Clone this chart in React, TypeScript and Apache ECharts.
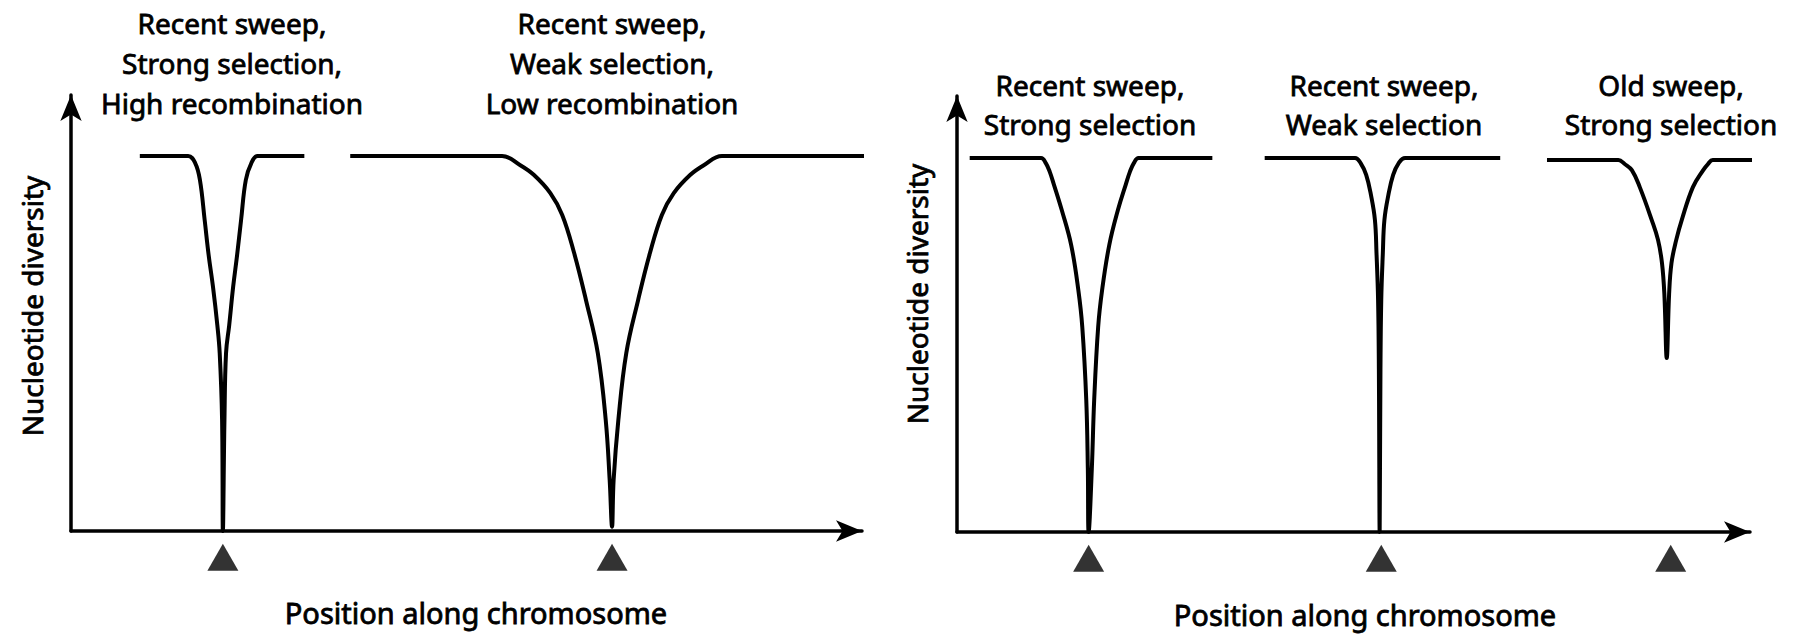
import React, { useEffect, useRef } from "react";
import * as echarts from "echarts";

// ---- Data (x: position along chromosome, 0-100 per panel; y: relative nucleotide diversity, 0-1) ----
// Left panel
const leftRecentStrongHighRecX = [8.7, 14.8, 15.7, 16.3, 16.9, 17.4, 17.95, 18.5, 18.8, 19.1, 19.2, 19.4, 19.6, 20.0, 20.5, 21.0, 21.5, 22.1, 22.8, 23.6, 29.5];
const leftRecentStrongHighRecY = [0.86, 0.86, 0.844, 0.805, 0.713, 0.633, 0.56, 0.472, 0.408, 0.255, 0, 0.255, 0.408, 0.472, 0.56, 0.633, 0.713, 0.805, 0.844, 0.86, 0.86];

const leftRecentWeakLowRecX = [35.3, 54.5, 56.8, 58.5, 60.6, 62.1, 63.6, 65.1, 66.6, 67.6, 68.1, 68.4, 68.6, 69.2, 70.2, 71.7, 73.2, 74.7, 76.2, 78.3, 80.0, 82.3, 101.5];
const leftRecentWeakLowRecY = [0.86, 0.86, 0.839, 0.817, 0.775, 0.725, 0.638, 0.53, 0.408, 0.255, 0.117, 0.01, 0.117, 0.255, 0.408, 0.53, 0.638, 0.725, 0.775, 0.817, 0.839, 0.86, 0.86];

// Right panel
const rightRecentStrongX = [1.6, 10.6, 11.2, 11.7, 12.2, 13.2, 14.4, 15.3, 15.8, 16.3, 16.5, 16.6, 17.0, 17.3, 17.8, 18.3, 19.2, 20.3, 21.3, 21.8, 22.3, 22.9, 32.2];
const rightRecentStrongY = [0.858, 0.858, 0.846, 0.826, 0.798, 0.739, 0.658, 0.555, 0.47, 0.303, 0.144, 0, 0.144, 0.303, 0.47, 0.555, 0.658, 0.739, 0.798, 0.826, 0.846, 0.858, 0.858];

const rightRecentWeakX = [38.8, 50.2, 50.9, 51.6, 52.2, 52.7, 52.9, 53.1, 53.2, 53.3, 53.4, 53.5, 53.7, 53.9, 54.4, 55.0, 55.7, 56.5, 68.5];
const rightRecentWeakY = [0.858, 0.858, 0.846, 0.819, 0.773, 0.716, 0.64, 0.532, 0.372, 0, 0.372, 0.532, 0.64, 0.716, 0.773, 0.819, 0.846, 0.858, 0.858];

const rightOldStrongX = [74.4, 83.4, 84.2, 85.1, 86.1, 87.6, 88.4, 88.9, 89.2, 89.5, 89.8, 90.1, 90.7, 91.4, 92.8, 94.1, 94.7, 95.3, 104.4];
const rightOldStrongY = [0.853, 0.853, 0.844, 0.83, 0.791, 0.716, 0.67, 0.617, 0.546, 0.399, 0.546, 0.617, 0.67, 0.716, 0.791, 0.83, 0.844, 0.853, 0.853];

// Sweep site markers (triangles under the axis)
const leftSweepSites = [19.2, 68.4];
const rightSweepSites = [16.6, 53.5, 90.0];
const markerLevel = -0.06;

// Texts
const leftTitles = ["Recent sweep,\nStrong selection,\nHigh recombination", "Recent sweep,\nWeak selection,\nLow recombination"];
const rightTitles = ["Recent sweep,\nStrong selection", "Recent sweep,\nWeak selection", "Old sweep,\nStrong selection"];
const yName = "Nucleotide diversity";
const xName = "Position along chromosome";

const FONT = "'Noto Sans', sans-serif";
const FS = 28;

const zip = (xs: number[], ys: number[]) => xs.map((x, i) => [x, ys[i]]);

export default function App() {
  const ref = useRef<HTMLDivElement>(null);
  useEffect(() => {
    if (!ref.current) return;
    const chart = echarts.init(ref.current, null, { renderer: "svg" });

    const axisLine = {
      show: true,
      onZero: false,
      symbol: ["none", "arrow"],
      symbolSize: [16, 26],
      lineStyle: { color: "#000", width: 3.5 },
    };
    const mkX = (g: number) => ({
      gridIndex: g, type: "value", min: 0, max: 100,
      axisLine, axisTick: { show: false }, axisLabel: { show: false }, splitLine: { show: false },
    });
    const mkY = (g: number) => ({
      gridIndex: g, type: "value", min: 0, max: 1,
      axisLine, axisTick: { show: false }, axisLabel: { show: false }, splitLine: { show: false },
    });
    const curve = (g: number, xs: number[], ys: number[]) => ({
      type: "line", xAxisIndex: g, yAxisIndex: g, data: zip(xs, ys),
      symbol: "none", smooth: 0.4, clip: false,
      lineStyle: { color: "#000", width: 4 },
    });
    const markers = (g: number, xs: number[]) => ({
      type: "scatter", xAxisIndex: g, yAxisIndex: g, clip: false,
      data: xs.map((x) => [x, markerLevel]),
      symbol: "triangle", symbolSize: [31, 27],
      itemStyle: { color: "#000" },
    });
    const text = (t: string, x: number, y: number, lh: number, fs: number = FS) => ({
      type: "text", x, y,
      style: {
        text: t, font: `${fs}px ${FONT}`, fill: "#000", stroke: "#000", lineWidth: 0.8,
        align: "center", verticalAlign: "top", lineHeight: lh,
      },
    });
    const vtext = (t: string, x: number, y: number) => ({
      type: "text", x, y, rotation: Math.PI / 2,
      style: {
        text: t, font: `${FS}px ${FONT}`, fill: "#000", stroke: "#000", lineWidth: 0.8,
        align: "center", verticalAlign: "middle",
      },
    });

    chart.setOption({
      animation: false,
      backgroundColor: "#fff",
      grid: [
        { left: 71, top: 95, width: 791, height: 436 },
        { left: 957, top: 96, width: 793, height: 436 },
      ],
      xAxis: [mkX(0), mkX(1)],
      yAxis: [mkY(0), mkY(1)],
      series: [
        curve(0, leftRecentStrongHighRecX, leftRecentStrongHighRecY),
        curve(0, leftRecentWeakLowRecX, leftRecentWeakLowRecY),
        curve(1, rightRecentStrongX, rightRecentStrongY),
        curve(1, rightRecentWeakX, rightRecentWeakY),
        curve(1, rightOldStrongX, rightOldStrongY),
        markers(0, leftSweepSites),
        markers(1, rightSweepSites),
      ],
      graphic: [
        text(leftTitles[0], 232, 3, 40),
        text(leftTitles[1], 612, 3, 40),
        text(rightTitles[0], 1090, 65, 39),
        text(rightTitles[1], 1384, 65, 39),
        text(rightTitles[2], 1671, 65, 39),
        text(xName, 476, 592, 40, 29),
        text(xName, 1365, 594, 40, 29),
        vtext(yName, 32, 306),
        vtext(yName, 917, 294),
      ],
    });
    return () => chart.dispose();
  }, []);
  return <div ref={ref} style={{ position: "absolute", left: 0, top: 0, width: 1797, height: 637 }} />;
}
